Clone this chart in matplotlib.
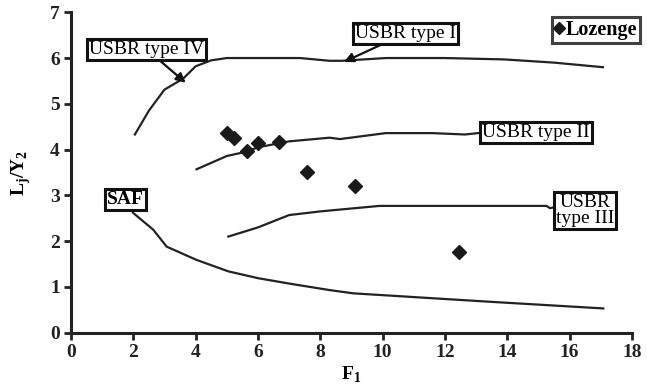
import matplotlib.pyplot as plt

plt.rcParams['font.family'] = 'Liberation Serif'
plt.rcParams['mathtext.fontset'] = 'custom'
plt.rcParams['mathtext.rm'] = 'Liberation Serif'
plt.rcParams['mathtext.bf'] = 'Liberation Serif:bold'

# USBR type IV running into type I (one curve)
f_top = [2.05, 2.5, 3.0, 3.6, 4.0, 4.5, 5.0, 6.0, 7.35, 8.3, 8.7, 10.1, 12.0, 13.9, 15.5, 17.07]
l_top = [4.33, 4.85, 5.31, 5.55, 5.82, 5.95, 6.0, 6.0, 6.0, 5.94, 5.94, 6.0, 6.0, 5.97, 5.9, 5.80]

# USBR type II
f_t2 = [4.03, 5.0, 5.6, 6.0, 7.0, 8.3, 8.63, 10.1, 11.6, 12.64, 13.06]
l_t2 = [3.57, 3.86, 3.95, 4.05, 4.18, 4.26, 4.23, 4.36, 4.36, 4.33, 4.36]

# USBR type III
f_t3 = [5.05, 6.0, 7.0, 8.0, 9.9, 15.26, 15.37, 15.56]
l_t3 = [2.10, 2.30, 2.57, 2.65, 2.77, 2.77, 2.72, 2.75]

# SAF
f_saf = [1.99, 2.64, 3.07, 4.03, 5.05, 6.01, 7.03, 8.31, 9.06, 13.34, 17.08]
l_saf = [2.62, 2.25, 1.88, 1.59, 1.34, 1.19, 1.07, 0.93, 0.86, 0.68, 0.53]

# Lozenge measurements
f_loz = [5.0, 5.24, 5.64, 6.01, 6.68, 7.58, 9.11, 12.45]
l_loz = [4.36, 4.25, 3.98, 4.14, 4.16, 3.52, 3.21, 1.77]

fig = plt.figure(figsize=(6.47, 3.87), dpi=100)
ax = fig.add_axes([0.1097, 0.1403, 0.867, 0.828])

for xs, ys in [(f_top, l_top), (f_t2, l_t2), (f_t3, l_t3), (f_saf, l_saf)]:
    ax.plot(xs, ys, color='#222222', lw=1.6)

ax.plot(f_loz, l_loz, 'D', color='#1a1a1a', ms=7, ls='none', label='Lozenge')

box = dict(boxstyle='square,pad=0.1', fc='white', ec='#111111', lw=2.2)
arrow = dict(arrowstyle='-|>', color='#111111', lw=1.6, mutation_scale=14, shrinkA=0)
fs = 14

ax.annotate('USBR type IV', xy=(3.75, 5.42), xytext=(2.43, 6.19), ha='center', va='center',
            fontsize=fs, bbox=box, arrowprops=arrow)
ax.annotate('USBR type I', xy=(8.68, 5.89), xytext=(10.74, 6.54), ha='center', va='center',
            fontsize=fs, bbox=box, arrowprops=arrow)
ax.text(14.93, 4.37, 'USBR type II', ha='center', va='center', fontsize=fs, bbox=box)
ax.text(16.5, 2.67, 'USBR\ntype III', ha='center', va='center', fontsize=fs,
        linespacing=0.9, bbox=box)
ax.text(1.76, 2.91, 'SAF', ha='center', va='center', fontsize=fs, fontweight='bold', bbox=box)

leg = ax.legend(loc='upper right', bbox_to_anchor=(1.015, 0.985), frameon=True, fancybox=False,
                handlelength=0.4, handletextpad=0.15, borderpad=0.15, borderaxespad=0,
                prop={'size': 14.5, 'weight': 'bold'})
leg.get_frame().set_edgecolor('#111111')
leg.get_frame().set_linewidth(2.2)
for h in leg.legend_handles:
    h.set_markersize(6.5)

ax.set_xlim(0, 18)
ax.set_ylim(0, 7)
ax.set_xticks(range(0, 19, 2))
ax.set_yticks(range(0, 8))
for s in ['top', 'right']:
    ax.spines[s].set_visible(False)
for s in ['left', 'bottom']:
    ax.spines[s].set_linewidth(2.2)
    ax.spines[s].set_color('#222222')
ax.tick_params(direction='out', length=5, width=2, labelsize=14, colors='#222222', pad=3)
for lab in ax.get_xticklabels() + ax.get_yticklabels():
    lab.set_fontweight('bold')

ax.set_xlabel(r'F$_\mathregular{1}$', fontsize=14, fontweight='bold', labelpad=3)
ax.set_ylabel(r'L$_\mathregular{j}$/Y$_\mathregular{2}$', fontsize=14, fontweight='bold', labelpad=12)

fig.savefig('out.png', dpi=100)
